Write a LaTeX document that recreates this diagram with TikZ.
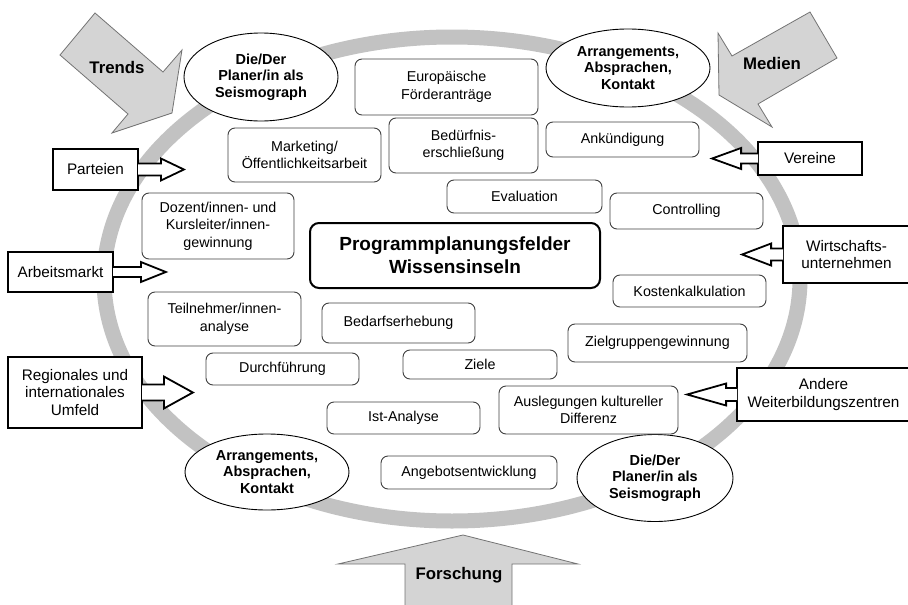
\documentclass[tikz,border=0pt]{standalone}
\usepackage{fontspec}
\setmainfont{Liberation Sans}
\usetikzlibrary{shapes.geometric}

\begin{document}
\begin{tikzpicture}[x=1pt,y=-1pt,
  ring/.style={draw=black!24,line width=15pt},
  influx/.style={draw=black!55,fill=black!17,line width=0.8pt,line join=miter},
  influxtext/.style={font=\bfseries\fontsize{16.8}{20}\selectfont},
  seismo/.style={ellipse,draw,fill=white,line width=0.9pt,inner sep=0pt,align=center,font=\bfseries\fontsize{14.5}{16.5}\selectfont},
  field/.style={draw=black!75,fill=white,rounded corners=7pt,line width=0.9pt,inner sep=0pt,align=center,font=\fontsize{14.3}{17.5}\selectfont},
  hub/.style={field,draw=black,line width=2pt,rounded corners=9pt,font=\bfseries\fontsize{19}{23}\selectfont},
  source/.style={draw,fill=white,line width=1.8pt,inner sep=0pt,align=center,font=\fontsize{15.3}{17.5}\selectfont},
  sourcearrow/.style={draw,fill=white,line width=1.8pt,line join=miter}]
\useasboundingbox (0,0) rectangle (908,605);

% gray ring
\draw[ring] (452,279) ellipse [x radius=348pt, y radius=242pt];

% influence arrows
\draw[influx] (95,13) -- (163,72) -- (182,50) -- (172,113) -- (112,133) -- (128,114) -- (60,55) -- cycle;
\node[influxtext] (trends) at (117,67) {Trends};
\draw[influx] (810,12) -- (837,58) -- (758,104) -- (772,127) -- (719,95) -- (718,33) -- (732,56) -- cycle;
\node[influxtext] (medien) at (772,63) {Medien};
\draw[influx] (463,535) -- (578,564) -- (512,564) -- (512,612) -- (405,612) -- (405,564) -- (338,564) -- cycle;
\node[influxtext] (forschung) at (459,575) {Forschung};

% ellipses
\node[seismo,minimum width=154pt,minimum height=88pt] (seismotop) at (261,77) {Die/Der\\Planer/in als\\Seismograph};
\node[seismo,minimum width=164pt,minimum height=78pt] (arrangetop) at (628,68) {Arrangements,\\Absprachen,\\Kontakt};
\node[seismo,minimum width=164pt,minimum height=76pt] (arrangebot) at (267,472) {Arrangements,\\Absprachen,\\Kontakt};
\node[seismo,minimum width=156pt,minimum height=87pt] (seismobot) at (655,478) {Die/Der\\Planer/in als\\Seismograph};

% planning fields
\node[field,minimum width=183pt,minimum height=56pt] (foerder) at (446.5,87) {Europäische\\Förderanträge};
\node[field,minimum width=149pt,minimum height=55pt] (beduerfnis) at (463.5,145.5) {Bedürfnis-\\erschließung};
\node[field,minimum width=153pt,minimum height=35pt] (ankuendigung) at (622.5,139.5) {Ankündigung};
\node[field,minimum width=153pt,minimum height=54pt] (marketing) at (304.5,155) {Marketing/\\Öffentlichkeitsarbeit};
\node[field,minimum width=155pt,minimum height=33pt] (evaluation) at (524.5,196.5) {Evaluation};
\node[field,minimum width=153pt,minimum height=36pt] (controlling) at (686.5,211) {Controlling};
\node[field,minimum width=152pt,minimum height=66pt] (dozenten) at (218,226) {Dozent/innen- und\\Kursleiter/innen-\\gewinnung};
\node[hub,minimum width=290pt,minimum height=65pt] (felder) at (455,255.5) {Programmplanungsfelder\\Wissensinseln};
\node[field,minimum width=153pt,minimum height=32pt] (kosten) at (689.5,291) {Kostenkalkulation};
\node[field,minimum width=153pt,minimum height=54pt] (teilnehmer) at (224.5,319) {Teilnehmer/innen-\\analyse};
\node[field,minimum width=153pt,minimum height=40pt] (bedarf) at (398.5,323) {Bedarfserhebung};
\node[field,minimum width=179pt,minimum height=38pt] (zielgruppen) at (657.5,343) {Zielgruppengewinnung};
\node[field,minimum width=153pt,minimum height=32pt] (durchfuehrung) at (282.5,369) {Durchführung};
\node[field,minimum width=154pt,minimum height=29pt] (ziele) at (480,364.5) {Ziele};
\node[field,minimum width=153pt,minimum height=32pt] (istanalyse) at (403.5,418) {Ist-Analyse};
\node[field,minimum width=179pt,minimum height=48pt] (auslegungen) at (588.5,410) {Auslegungen kultureller\\Differenz};
\node[field,minimum width=176pt,minimum height=33pt] (angebot) at (469,472.5) {Angebotsentwicklung};

% outside sources
\node[source,minimum width=85pt,minimum height=41pt] (parteien) at (95.5,169.5) {Parteien};
\node[source,minimum width=105pt,minimum height=40pt] (arbeitsmarkt) at (60.5,272) {Arbeitsmarkt};
\node[source,minimum width=134pt,minimum height=71pt] (umfeld) at (75,392.5) {Regionales und\\internationales\\Umfeld};
\node[source,minimum width=104pt,minimum height=33pt] (vereine) at (810,158.5) {Vereine};
\node[source,minimum width=127pt,minimum height=57pt] (wirtschaft) at (846.5,254.5) {Wirtschafts-\\unternehmen};
\node[source,minimum width=173pt,minimum height=53pt] (weiterbildung) at (823.5,394.5) {Andere\\Weiterbildungszentren};

% arrows of the sources
\draw[sourcearrow] (parteien.east) ++(-0.9,-6) -- ++(22.9,0) -- ++(0,-5) -- ++(23,11) -- ++(-23,11) -- ++(0,-5) -- ++(-22.9,0);
\draw[sourcearrow] (arbeitsmarkt.east) ++(-0.9,-5) -- ++(27.9,0) -- ++(0,-5) -- ++(25,10) -- ++(-25,10) -- ++(0,-5) -- ++(-27.9,0);
\draw[sourcearrow] (umfeld.east) ++(-0.9,-8) -- ++(21.9,0) -- ++(0,-8) -- ++(29,16) -- ++(-29,16) -- ++(0,-8) -- ++(-21.9,0);
\draw[sourcearrow] (vereine.west) ++(0.9,-5) -- ++(-16.9,0) -- ++(0,-5.5) -- ++(-29,10.5) -- ++(29,10.5) -- ++(0,-5.5) -- ++(16.9,0);
\draw[sourcearrow] (wirtschaft.west) ++(0.9,-6) -- ++(-11.9,0) -- ++(0,-5) -- ++(-29,11) -- ++(29,11) -- ++(0,-5) -- ++(11.9,0);
\draw[sourcearrow] (weiterbildung.west) ++(0.9,-6.5) -- ++(-10.9,0) -- ++(0,-4.5) -- ++(-39,11) -- ++(39,11) -- ++(0,-4.5) -- ++(10.9,0);

\end{tikzpicture}
\end{document}
